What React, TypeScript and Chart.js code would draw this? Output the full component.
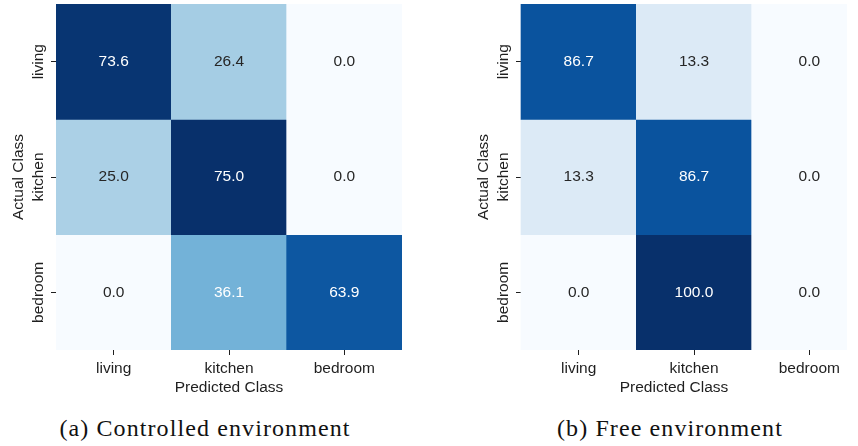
import React, { useEffect, useRef } from 'react';
import { Chart, registerables } from 'chart.js';

Chart.register(...registerables);

// ---- data ----
const classLabels = ['living', 'kitchen', 'bedroom'];
const controlledLiving = [73.6, 26.4, 0.0];
const controlledKitchen = [25.0, 75.0, 0.0];
const controlledBedroom = [0.0, 36.1, 63.9];
const freeLiving = [86.7, 13.3, 0.0];
const freeKitchen = [13.3, 86.7, 0.0];
const freeBedroom = [0.0, 100.0, 0.0];
const xTitle = 'Predicted Class';
const yTitle = 'Actual Class';
const captionA = '(a) Controlled environment';
const captionB = '(b) Free environment';

// ---- style ----
const BLUES = ['#f7fbff', '#deebf7', '#c6dbef', '#9ecae1', '#6baed6', '#4292c6', '#2171b5', '#08519c', '#08306b'];
const FONT = '"Liberation Sans", Arial, Helvetica, sans-serif';
const FONT_SIZE = 15.5;
const TEXT = '#1f1f1f';

function hexToRgb(h: string) {
  const n = parseInt(h.slice(1), 16);
  return [(n >> 16) & 255, (n >> 8) & 255, n & 255];
}
function blues(t: number) {
  const tt = Math.max(0, Math.min(1, t)) * (BLUES.length - 1);
  const i = Math.min(BLUES.length - 2, Math.floor(tt));
  const f = tt - i;
  const a = hexToRgb(BLUES[i]);
  const b = hexToRgb(BLUES[i + 1]);
  return a.map((v, k) => Math.round(v + (b[k] - v) * f));
}
function rgbStr(c: number[]) {
  return `rgb(${c[0]},${c[1]},${c[2]})`;
}
function luminance(c: number[]) {
  const l = c.map((v) => {
    const s = v / 255;
    return s <= 0.03928 ? s / 12.92 : Math.pow((s + 0.055) / 1.055, 2.4);
  });
  return 0.2126 * l[0] + 0.7152 * l[1] + 0.0722 * l[2];
}

const AXIS_W = 56;
const PLOT = 346;
const TOP = 4;
const XAXIS_H = 50;
const CANVAS_W = AXIS_W + PLOT + 28;
const CANVAS_H = TOP + PLOT + XAXIS_H;

function Heatmap({ rows, left, titleShift }: { rows: number[][]; left: number; titleShift: number }) {
  const ref = useRef<HTMLCanvasElement | null>(null);
  useEffect(() => {
    const canvas = ref.current;
    if (!canvas) return;
    const vmax = Math.max(...rows.flat());
    const vmin = Math.min(...rows.flat());
    const colorOf = (v: number) => blues((v - vmin) / (vmax - vmin));
    const datasets = rows.map((row, r) => ({
      label: classLabels[r],
      data: row.map(() => [r - 0.5, r + 0.5]),
      backgroundColor: row.map((v) => rgbStr(colorOf(v))),
      borderWidth: 0,
      borderSkipped: false,
      grouped: false,
      barPercentage: 1,
      categoryPercentage: 1,
    }));
    const cellText = {
      id: 'cellText',
      beforeDraw(chart: any) {
        const xs = chart.scales.x;
        xs._origLR = [xs.left, xs.right];
        xs.left += titleShift;
        xs.right += titleShift;
      },
      afterDraw(chart: any) {
        const xs = chart.scales.x;
        if (xs._origLR) {
          xs.left = xs._origLR[0];
          xs.right = xs._origLR[1];
        }
      },
      afterDatasetsDraw(chart: any) {
        const { ctx, scales } = chart;
        ctx.save();
        ctx.font = `${FONT_SIZE}px ${FONT}`;
        ctx.textAlign = 'center';
        ctx.textBaseline = 'middle';
        rows.forEach((row, r) => {
          row.forEach((v, c) => {
            const col = colorOf(v);
            ctx.fillStyle = luminance(col) < 0.408 ? '#ffffff' : '#262626';
            ctx.fillText(v.toFixed(1), scales.x.getPixelForValue(c), scales.y.getPixelForValue(r));
          });
        });
        ctx.restore();
      },
    };
    const font = { family: FONT, size: FONT_SIZE };
    const chart = new Chart(canvas, {
      type: 'bar',
      data: { labels: classLabels, datasets: datasets as any },
      plugins: [cellText],
      options: {
        responsive: false,
        animation: false,
        events: [],
        layout: { padding: { left: 0, top: TOP, right: CANVAS_W - AXIS_W - PLOT, bottom: 0 } },
        plugins: { legend: { display: false }, tooltip: { enabled: false } },
        scales: {
          x: {
            type: 'category',
            offset: true,
            grid: { offset: false, drawOnChartArea: false, drawTicks: true, tickLength: 5, color: TEXT, lineWidth: 1 },
            border: { display: false },
            ticks: { color: TEXT, font, padding: 4.7, maxRotation: 0, autoSkip: false },
            title: { display: true, text: xTitle, color: TEXT, font, padding: { top: 0, bottom: 2.8 } },
            afterFit: (s: any) => {
              s.height = XAXIS_H;
            },
          },
          y: {
            type: 'linear',
            min: -0.5,
            max: 2.5,
            reverse: true,
            afterBuildTicks: (s: any) => {
              s.ticks = classLabels.map((_, i) => ({ value: i }));
            },
            grid: { drawOnChartArea: false, drawTicks: true, tickLength: 5, color: TEXT, lineWidth: 1 },
            border: { display: false },
            ticks: {
              color: TEXT,
              font,
              minRotation: 90,
              maxRotation: 90,
              crossAlign: 'center',
              padding: -18.1,
              autoSkip: false,
              callback: (v: any) => classLabels[Math.round(Number(v))],
            },
            title: { display: true, text: yTitle, color: TEXT, font, padding: { top: 9.2, bottom: 0 } },
            afterFit: (s: any) => {
              s.width = AXIS_W;
            },
          },
        },
      } as any,
    });
    return () => chart.destroy();
  }, [rows, titleShift]);
  return (
    <canvas
      ref={ref}
      width={CANVAS_W}
      height={CANVAS_H}
      style={{ position: 'absolute', left, top: 0, width: CANVAS_W, height: CANVAS_H, display: 'block' }}
    />
  );
}

const captionStyle: React.CSSProperties = {
  position: 'absolute',
  top: 416,
  transform: 'translateX(-50%)',
  whiteSpace: 'nowrap',
  fontFamily: '"Liberation Serif", "Times New Roman", serif',
  fontSize: 24,
  lineHeight: '24px',
  letterSpacing: '1.1px',
  color: '#111',
};

const controlledRows = [controlledLiving, controlledKitchen, controlledBedroom];
const freeRows = [freeLiving, freeKitchen, freeBedroom];

export default function App() {
  return (
    <div
      style={{
        position: 'fixed',
        left: 0,
        top: 0,
        width: 858,
        height: 446,
        overflow: 'hidden',
        background: '#ffffff',
      }}
    >
      <Heatmap rows={controlledRows} left={0} titleShift={0} />
      <Heatmap rows={freeRows} left={465} titleShift={-20} />
      <div style={{ ...captionStyle, left: 205 }}>{captionA}</div>
      <div style={{ ...captionStyle, left: 670 }}>{captionB}</div>
    </div>
  );
}
